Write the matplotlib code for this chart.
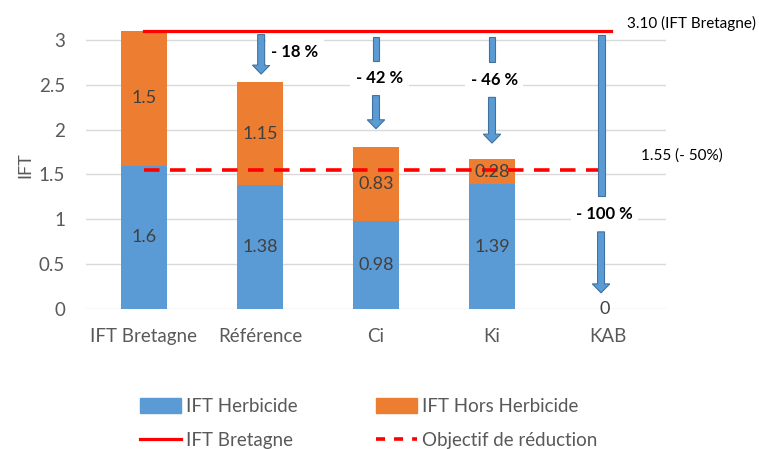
import matplotlib.pyplot as plt
from matplotlib.patches import FancyArrow, Rectangle, Patch
from matplotlib.lines import Line2D

plt.rcParams['font.family'] = ['Lato', 'DejaVu Sans']

# data
categories = ['IFT Bretagne', 'Référence', 'Ci', 'Ki', 'KAB']
herbicide = [1.6, 1.38, 0.98, 1.39, 0]
hors_herbicide = [1.5, 1.15, 0.83, 0.28, 0]
ift_bretagne = 3.10
objectif = 1.55
reductions = ['- 18 %', '- 42 %', '- 46 %', '- 100 %']

blue = '#5B9BD5'
orange = '#ED7D31'
red = '#FF0000'
grey = '#595959'
arrow_edge = '#41719C'

fig = plt.figure(figsize=(7.59, 4.49), dpi=100)
ax = fig.add_axes([86 / 759, (449 - 309) / 449, 580 / 759, 3.2 * 89.67 / 449])

x = list(range(len(categories)))
ax.bar(x, herbicide, width=0.4, color=blue, zorder=2)
ax.bar(x, hors_herbicide, width=0.4, bottom=herbicide, color=orange, zorder=2)

# data labels
for i in x:
    if herbicide[i] > 0:
        ax.text(i, herbicide[i] / 2, f'{herbicide[i]:g}', ha='center', va='center',
                fontsize=13, color='#404040', zorder=5)
    if hors_herbicide[i] > 0:
        ax.text(i, herbicide[i] + hors_herbicide[i] / 2, f'{hors_herbicide[i]:g}',
                ha='center', va='center', fontsize=13, color='#404040', zorder=5)
ax.text(3.97, 0, '0', ha='center', va='center', fontsize=13, color='#404040', zorder=5)

# reference lines
ax.plot([0, 4.03], [ift_bretagne, ift_bretagne], color=red, lw=2.3, zorder=3)
ax.plot([0, 4.0], [objectif, objectif], color=red, lw=2.6, dashes=(4.3, 2.9), zorder=3)


def arrow(xc, y0, y1):
    ax.add_patch(FancyArrow(xc, y0, 0, y1 - y0, width=0.06, head_width=0.15,
                            head_length=0.1, length_includes_head=True,
                            fc=blue, ec=arrow_edge, lw=0.8, zorder=4))


def shaft(xc, y0, y1):
    ax.add_patch(Rectangle((xc - 0.03, y1), 0.06, y0 - y1, fc=blue,
                           ec=arrow_edge, lw=0.8, zorder=4))


lbl = dict(fontsize=12, fontweight='bold', color='black', ha='center', va='center',
           zorder=6, bbox=dict(facecolor='white', edgecolor='none', pad=4))

# Référence
arrow(1.01, 3.06, 2.62)
ax.text(1.3, 2.87, reductions[0], **lbl)
# Ci
shaft(2.0, 3.03, 2.77)
ax.text(2.03, 2.58, reductions[1], **lbl)
arrow(2.0, 2.38, 2.01)
# Ki
shaft(3.0, 3.03, 2.75)
ax.text(3.02, 2.55, reductions[2], **lbl)
arrow(3.0, 2.36, 1.85)
# KAB
shaft(3.94, 3.06, 1.26)
ax.text(3.97, 1.06, reductions[3], **lbl)
arrow(3.94, 0.86, 0.18)

ax.set_xlim(-0.5, 4.5)
ax.set_ylim(0, 3.2)
ax.set_yticks([0, 0.5, 1, 1.5, 2, 2.5, 3])
ax.set_yticklabels(['0', '0.5', '1', '1.5', '2', '2.5', '3'])
ax.set_xticks(x)
ax.set_xticklabels(categories)
ax.tick_params(axis='x', length=0, labelsize=13.5, colors=grey, pad=14)
ax.tick_params(axis='y', length=0, labelsize=13.5, colors=grey, pad=15)
ax.grid(axis='y', color='#D9D9D9', lw=1, zorder=0)
ax.set_axisbelow(True)
for s in ax.spines.values():
    s.set_visible(False)
ax.set_ylabel('IFT', fontsize=13, color=grey, labelpad=4)

fig.text(627 / 759, 1 - 23 / 449, '3.10 (IFT Bretagne)', fontsize=11, color='black',
         ha='left', va='center')
fig.text(641 / 759, 1 - 156 / 449, '1.55 (- 50%)', fontsize=11, color='black',
         ha='left', va='center')

handles = [Patch(color=blue), Line2D([], [], color=red, lw=2.3),
           Patch(color=orange), Line2D([], [], color=red, lw=2.6, dashes=(2.5, 2.5))]
labels = ['IFT Herbicide', 'IFT Bretagne', 'IFT Hors Herbicide', 'Objectif de réduction']
leg = fig.legend(handles, labels, ncol=2, loc='upper left', bbox_to_anchor=(123 / 759, 1 - 381 / 449),
                 frameon=False, fontsize=13.5, handlelength=2.2, handleheight=0.9,
                 handletextpad=0.25, columnspacing=4.2, labelspacing=0.9)
for t in leg.get_texts():
    t.set_color(grey)

fig.savefig('out.png', dpi=100)
